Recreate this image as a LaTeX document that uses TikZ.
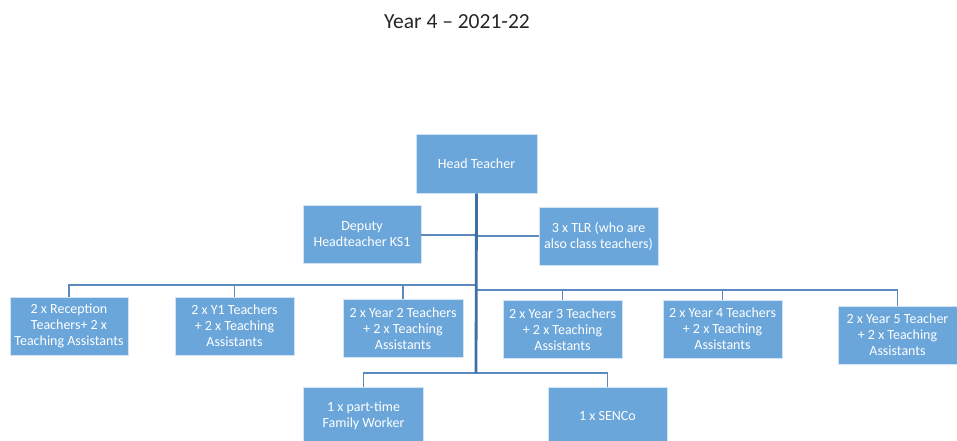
\documentclass[tikz,border=0pt]{standalone}
\usepackage{fontspec}
\setmainfont{Carlito}
\begin{document}
\definecolor{boxblue}{RGB}{106,166,218}
\definecolor{linkblue}{RGB}{92,138,190}
\definecolor{trunkblue}{RGB}{62,112,166}
\begin{tikzpicture}[x=1pt,y=-1pt,
  role/.style={rectangle, fill=boxblue, draw=white!70!boxblue, line width=0.8pt,
    minimum width=119pt, minimum height=58pt, inner sep=0pt,
    text=white, align=center,
    font=\fontsize{14}{16}\selectfont},
  link/.style={draw=linkblue, line width=1.8pt},
  trunk/.style={draw=trunkblue, line width=2.8pt}]
\useasboundingbox (0,0) rectangle (957,440);
\clip (0,0) rectangle (957,440);
\fill[white] (0,0) rectangle (957,440);

% title
\node[font=\fontsize{21.5}{25}\selectfont, text=black!85] (title) at (457,22) {Year 4 – 2021-22};

% leadership
\node[role, minimum width=121pt, minimum height=59pt] (head) at (476.5,163.5) {Head Teacher};
\node[role, minimum width=118pt] (deputy) at (362,234) {Deputy\\Headteacher KS1};
\node[role] (tlr) at (598.5,236) {3 x TLR (who are\\also class teachers)};

% year groups
\node[role, minimum width=118pt] (rec) at (69,326) {2 x Reception\\Teachers+ 2 x\\Teaching Assistants};
\node[role] (y1) at (234.5,326) {2 x Y1 Teachers\\+ 2 x Teaching\\Assistants};
\node[role, minimum width=120pt] (y2) at (403,328.5) {2 x Year 2 Teachers\\+ 2 x Teaching\\Assistants};
\node[role] (y3) at (562.5,329.5) {2 x Year 3 Teachers\\+ 2 x Teaching\\Assistants};
\node[role] (y4) at (722.5,329) {2 x Year 4 Teachers\\+ 2 x Teaching\\Assistants};
\node[role] (y5) at (897.5,335) {2 x Year 5 Teacher\\+ 2 x Teaching\\Assistants};

% support staff
\node[role, minimum width=120pt] (fw) at (363.5,416) {1 x part-time\\Family Worker};
\node[role] (senco) at (607.5,416) {1 x SENCo};

% bus junctions on the trunk
\coordinate (busL) at (476,285);
\coordinate (busR) at (476,290);
\coordinate (busB) at (476,373);
\coordinate (depJ) at (476,235);

% connectors
\draw[link] (deputy.east |- depJ) -- (depJ);
\draw[link] (tlr.west) -- (tlr.west -| head.south);
\draw[link] (rec.north) |- (busL);
\draw[link] (y1.north) |- (busL);
\draw[link] (y2.north) |- (busL);
\draw[link] (y3.north) |- (busR);
\draw[link] (y4.north) |- (busR);
\draw[link] (y5.north) |- (busR);
\draw[link] (fw.north) |- (busB);
\draw[link] (senco.north) |- (busB);
\draw[trunk] (head.south) -- (busB);
\end{tikzpicture}
\end{document}
